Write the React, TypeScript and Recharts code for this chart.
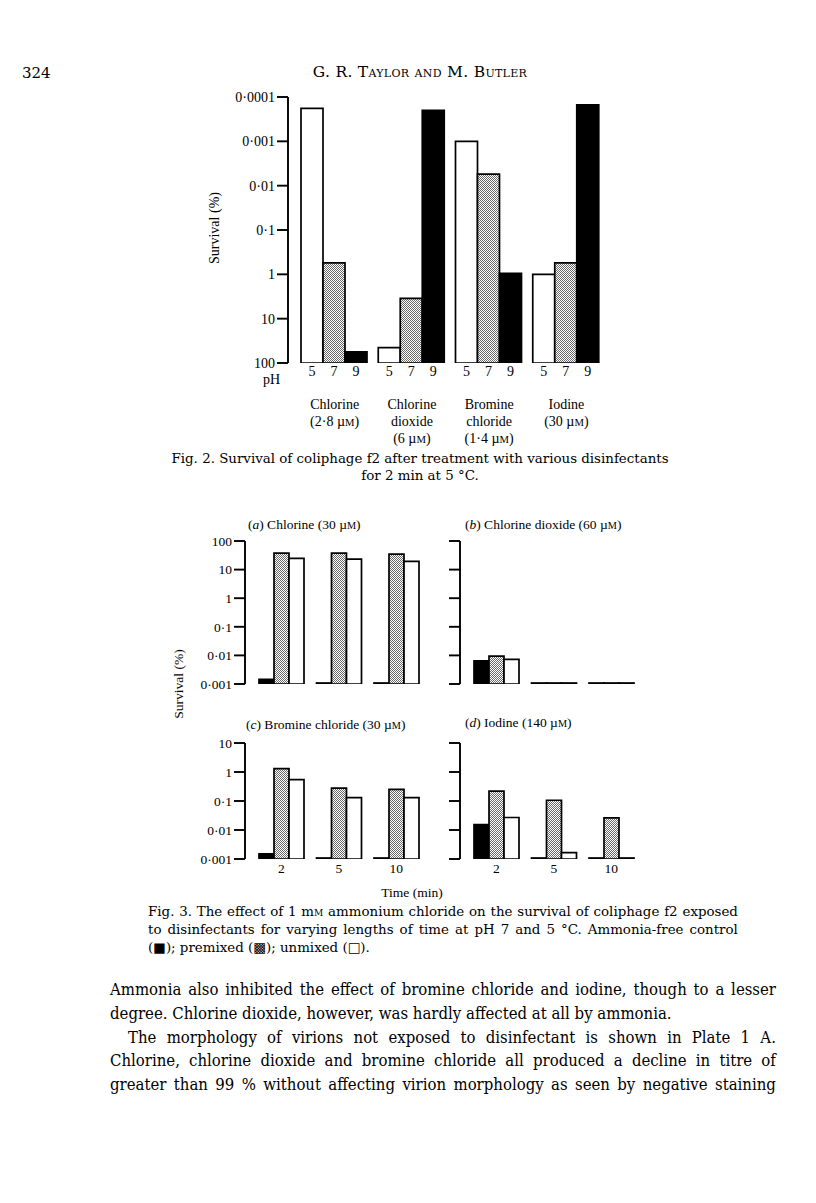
import React from "react";
import { Bar, BarChart, LabelList, XAxis, YAxis } from "recharts";

// Fig. 2: survival (%) of coliphage f2 after 2 min at 5 °C, per disinfectant and pH
const fig2Agents = ["Chlorine", "Chlorine dioxide", "Bromine chloride", "Iodine"];
const fig2AgentLines = [
  ["Chlorine", "(2·8 µM)"],
  ["Chlorine", "dioxide", "(6 µM)"],
  ["Bromine", "chloride", "(1·4 µM)"],
  ["Iodine", "(30 µM)"],
];
const fig2PH = ["5", "7", "9"];
const fig2PH5 = [0.00018, 45, 0.001, 1];
const fig2PH7 = [0.55, 3.5, 0.0055, 0.55];
const fig2PH9 = [56, 0.0002, 0.95, 0.00015];
const fig2Ticks = ["100", "10", "1", "0·1", "0·01", "0·001", "0·0001"];

// Fig. 3: survival (%) against time; control (black), premixed (stippled), unmixed (white)
const fig3Times = ["2", "5", "10"];
const fig3Ticks = ["0·001", "0·01", "0·1", "1", "10", "100"];
const chlorineControl = [0.00146, 0.001, 0.001];
const chlorinePremixed = [37.6, 37.6, 34.7];
const chlorineUnmixed = [24.5, 23.2, 19.3];
const dioxideControl = [0.0065, 0.001, 0.001];
const dioxidePremixed = [0.0095, 0.001, 0.001];
const dioxideUnmixed = [0.0073, 0.001, 0.001];
const bromineControl = [0.0015, 0.001, 0.001];
const brominePremixed = [1.31, 0.28, 0.25];
const bromineUnmixed = [0.55, 0.13, 0.13];
const iodineControl = [0.0153, 0.001, 0.001];
const iodinePremixed = [0.22, 0.106, 0.026];
const iodineUnmixed = [0.027, 0.00166, 0.001];

const FIG_FONT = "'Liberation Serif', 'Times New Roman', serif";
const TEXT_FONT = "'DejaVu Serif', serif";
const BODY_FONT = "'DejaVu Serif Condensed', 'DejaVu Serif', serif";

const fig2Data = fig2Agents.map((agent, i) => ({
  agent,
  ph5: Math.log10(100 / fig2PH5[i]),
  ph7: Math.log10(100 / fig2PH7[i]),
  ph9: Math.log10(100 / fig2PH9[i]),
}));

const decades = (v: number) => Math.log10(v / 0.001);
const panelData = (control: number[], premixed: number[], unmixed: number[]) =>
  fig3Times.map((time, i) => ({
    time,
    control: decades(control[i]),
    premixed: decades(premixed[i]),
    unmixed: decades(unmixed[i]),
  }));

// small-capital M after µ
function svgUnit(line: string) {
  const i = line.indexOf("µM");
  if (i < 0) return line;
  return (
    <>
      {line.slice(0, i + 1)}
      <tspan fontSize="0.76em">M</tspan>
      {line.slice(i + 2)}
    </>
  );
}

function htmlUnit(text: string) {
  const i = text.indexOf("µM");
  if (i < 0) return text;
  return (
    <>
      {text.slice(0, i + 1)}
      <span style={{ fontSize: "0.76em" }}>M</span>
      {text.slice(i + 2)}
    </>
  );
}

function Stipple({ id }: { id: string }) {
  return (
    <defs>
      <pattern id={id} width={2} height={2} patternUnits="userSpaceOnUse">
        <rect width={2} height={2} fill="#fff" />
        <rect width={1} height={1} fill="#6a6a6a" />
        <rect x={1} y={1} width={1} height={1} fill="#6a6a6a" />
      </pattern>
    </defs>
  );
}

function AgentTick(props: any) {
  const { x, y, payload } = props;
  const lines = fig2AgentLines[fig2Agents.indexOf(payload.value)] || [];
  return (
    <text x={x} y={y} textAnchor="middle" fontFamily={FIG_FONT} fontSize={14} fill="#000">
      {lines.map((l, i) => (
        <tspan key={i} x={x} dy={i === 0 ? 46 : 17}>
          {svgUnit(l)}
        </tspan>
      ))}
    </text>
  );
}

const axisStroke = { stroke: "#000", strokeWidth: 1.9 };

function Fig2() {
  return (
    <div style={{ position: "absolute", left: 180, top: 80 }}>
      <BarChart
        width={435}
        height={373}
        data={fig2Data}
        margin={{ top: 17, right: 10, bottom: 0, left: 0 }}
        barCategoryGap={5}
        barGap={0}
      >
        <Stipple id="stip2" />
        <XAxis
          dataKey="agent"
          axisLine={false}
          tickLine={false}
          tickSize={0}
          tickMargin={0}
          height={90}
          interval={0}
          padding={{ left: 8, right: 0 }}
          tick={AgentTick}
        />
        <YAxis
          type="number"
          domain={[0, 6]}
          ticks={[0, 1, 2, 3, 4, 5, 6]}
          interval={0}
          allowDataOverflow
          width={108}
          tickSize={11}
          tickMargin={2}
          axisLine={axisStroke}
          tickLine={axisStroke}
          tickFormatter={(t: number) => fig2Ticks[t]}
          tick={{ fill: "#000", fontSize: 14, fontFamily: FIG_FONT }}
        />
        <Bar dataKey="ph5" fill="#fff" stroke="#000" strokeWidth={1.7} isAnimationActive={false}>
          <LabelList position="bottom" offset={3} formatter={() => fig2PH[0]} fill="#000" fontSize={14} fontFamily={FIG_FONT} />
        </Bar>
        <Bar dataKey="ph7" fill="url(#stip2)" stroke="#000" strokeWidth={1.7} isAnimationActive={false}>
          <LabelList position="bottom" offset={3} formatter={() => fig2PH[1]} fill="#000" fontSize={14} fontFamily={FIG_FONT} />
        </Bar>
        <Bar dataKey="ph9" fill="#000" stroke="#000" strokeWidth={1.7} isAnimationActive={false}>
          <LabelList position="bottom" offset={3} formatter={() => fig2PH[2]} fill="#000" fontSize={14} fontFamily={FIG_FONT} />
        </Bar>
      </BarChart>
    </div>
  );
}

interface PanelProps {
  id: string;
  left: number;
  plotTop: number;
  plotHeight: number;
  span: number;
  data: ReturnType<typeof panelData>;
  labels: boolean;
  times: boolean;
}

function Panel({ id, left, plotTop, plotHeight, span, data, labels, times }: PanelProps) {
  const ticks = Array.from({ length: span + 1 }, (_, i) => i);
  return (
    <div style={{ position: "absolute", left, top: plotTop - 8 }}>
      <BarChart
        width={260}
        height={plotHeight + 8 + 22}
        data={data}
        margin={{ top: 8, right: 0, bottom: 0, left: 0 }}
        barCategoryGap={6.5}
        barGap={0}
      >
        <Stipple id={id} />
        <XAxis
          dataKey="time"
          axisLine={false}
          tickLine={false}
          tickSize={0}
          tickMargin={4}
          height={22}
          interval={0}
          padding={{ left: 7.5, right: 0 }}
          tick={times ? { fill: "#000", fontSize: 13.5, fontFamily: FIG_FONT } : false}
        />
        <YAxis
          type="number"
          domain={[0, span]}
          ticks={ticks}
          interval={0}
          allowDataOverflow
          width={80}
          tickSize={11}
          tickMargin={2}
          axisLine={axisStroke}
          tickLine={axisStroke}
          tickFormatter={(t: number) => (labels ? fig3Ticks[t] : "")}
          tick={{ fill: "#000", fontSize: 13.5, fontFamily: FIG_FONT }}
        />
        <Bar dataKey="control" fill="#000" stroke="#000" strokeWidth={1.7} minPointSize={1} isAnimationActive={false} />
        <Bar dataKey="premixed" fill={`url(#${id})`} stroke="#000" strokeWidth={1.7} minPointSize={1} isAnimationActive={false} />
        <Bar dataKey="unmixed" fill="#fff" stroke="#000" strokeWidth={1.7} minPointSize={1} isAnimationActive={false} />
      </BarChart>
    </div>
  );
}

function Abs({ left, top, children, style }: any) {
  return <div style={{ position: "absolute", left, top, whiteSpace: "nowrap", ...style }}>{children}</div>;
}

function smallCapsWord(w: string) {
  if (w === "mM") {
    return (
      <>
        m<span style={{ fontVariant: "small-caps" }}>m</span>
      </>
    );
  }
  return w;
}

// a justified line: words spread across the full width
function JLine({ left, top, width, text, font, size, lh }: any) {
  const words = text.split(" ");
  return (
    <div
      style={{
        position: "absolute",
        left,
        top,
        width,
        display: "flex",
        justifyContent: "space-between",
        fontFamily: font,
        fontSize: size,
        lineHeight: `${lh}px`,
        whiteSpace: "nowrap",
      }}
    >
      {words.map((w: string, i: number) => (
        <span key={i}>{smallCapsWord(w)}</span>
      ))}
    </div>
  );
}

const bodyLines = [
  "Ammonia also inhibited the effect of bromine chloride and iodine, though to a lesser",
  "degree. Chlorine dioxide, however, was hardly affected at all by ammonia.",
  "The morphology of virions not exposed to disinfectant is shown in Plate 1 A.",
  "Chlorine, chlorine dioxide and bromine chloride all produced a decline in titre of",
  "greater than 99 % without affecting virion morphology as seen by negative staining",
];
const bodyIndent = [0, 0, 18, 0, 0];
const bodyJustify = [true, false, true, true, true];

export default function App() {
  const figText = { fontFamily: FIG_FONT, fontSize: 13.5, color: "#000" };
  const capText = { fontFamily: TEXT_FONT, fontSize: 13.4, color: "#000", lineHeight: "17px" };
  return (
    <div
      style={{
        position: "absolute",
        left: 0,
        top: 0,
        width: 816,
        height: 1203,
        background: "#fff",
        overflow: "hidden",
        color: "#000",
      }}
    >
      {/* running head */}
      <Abs left={22} top={64} style={{ fontFamily: TEXT_FONT, fontSize: 15 }}>
        324
      </Abs>
      <div
        style={{
          position: "absolute",
          left: 220,
          top: 63,
          width: 400,
          textAlign: "center",
          fontFamily: TEXT_FONT,
          fontSize: 15.5,
          fontVariant: "small-caps",
          letterSpacing: 0.3,
        }}
      >
        G. R. Taylor and M. Butler
      </div>

      {/* Fig. 2 */}
      <Fig2 />
      <Abs left={215} top={228} style={{ ...figText, transform: "translate(-50%, -50%) rotate(-90deg)", fontSize: 14 }}>
        Survival (%)
      </Abs>
      <Abs left={263} top={372} style={{ ...figText, fontSize: 14 }}>
        pH
      </Abs>
      <div style={{ position: "absolute", left: 120, top: 450, width: 600, textAlign: "center", ...capText }}>
        Fig. 2. Survival of coliphage f2 after treatment with various disinfectants
        <br />
        for 2 min at 5 °C.
      </div>

      {/* Fig. 3 */}
      <Abs left={248} top={517} style={figText}>
        (<i>a</i>) Chlorine ({htmlUnit("30 µM")})
      </Abs>
      <Abs left={465} top={517} style={figText}>
        (<i>b</i>) Chlorine dioxide ({htmlUnit("60 µM")})
      </Abs>
      <Abs left={246} top={717} style={figText}>
        (<i>c</i>) Bromine chloride ({htmlUnit("30 µM")})
      </Abs>
      <Abs left={465} top={715} style={figText}>
        (<i>d</i>) Iodine ({htmlUnit("140 µM")})
      </Abs>
      <Panel id="stA" left={165} plotTop={541} plotHeight={143} span={5} data={panelData(chlorineControl, chlorinePremixed, chlorineUnmixed)} labels times={false} />
      <Panel id="stB" left={380} plotTop={541} plotHeight={143} span={5} data={panelData(dioxideControl, dioxidePremixed, dioxideUnmixed)} labels={false} times={false} />
      <Panel id="stC" left={165} plotTop={743} plotHeight={116} span={4} data={panelData(bromineControl, brominePremixed, bromineUnmixed)} labels times />
      <Panel id="stD" left={380} plotTop={743} plotHeight={116} span={4} data={panelData(iodineControl, iodinePremixed, iodineUnmixed)} labels={false} times />
      <Abs left={179} top={684} style={{ ...figText, transform: "translate(-50%, -50%) rotate(-90deg)" }}>
        Survival (%)
      </Abs>
      <Abs left={412} top={893} style={{ ...figText, transform: "translate(-50%, -50%)" }}>
        Time (min)
      </Abs>
      <JLine left={148} top={903} width={590} size={13.4} lh={17} font={TEXT_FONT}
        text="Fig. 3. The effect of 1 mM ammonium chloride on the survival of coliphage f2 exposed" />
      <JLine left={148} top={921} width={590} size={13.4} lh={17} font={TEXT_FONT}
        text="to disinfectants for varying lengths of time at pH 7 and 5 °C. Ammonia-free control" />
      <Abs left={148} top={939} style={capText}>
        (■); premixed (▩); unmixed (□).
      </Abs>

      {/* body text */}
      {bodyLines.map((line, i) =>
        bodyJustify[i] ? (
          <JLine key={i} left={110 + bodyIndent[i]} top={978 + i * 23.75} width={666 - bodyIndent[i]} size={16.6} lh={24} font={BODY_FONT} text={line} />
        ) : (
          <Abs key={i} left={110} top={978 + i * 23.75} style={{ fontFamily: BODY_FONT, fontSize: 16.6, lineHeight: "24px" }}>
            {line}
          </Abs>
        )
      )}
    </div>
  );
}
